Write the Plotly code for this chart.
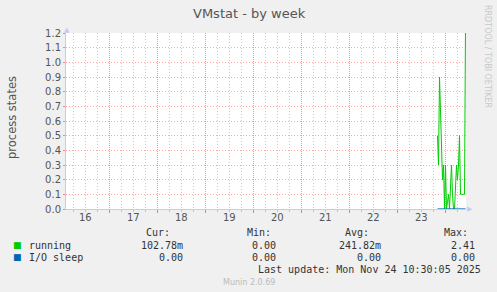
import plotly.graph_objects as go
from datetime import datetime, timedelta

# ---- data ----
DAYS = ["16", "17", "18", "19", "20", "21", "22", "23"]
DAY_DATES = ["2025-11-16", "2025-11-17", "2025-11-18", "2025-11-19",
             "2025-11-20", "2025-11-21", "2025-11-22", "2025-11-23"]
X_START = "2025-11-16 02:15"
X_END = "2025-11-24 10:15"

SAMPLE_START = "2025-11-23 20:00"
SAMPLE_STEP_MIN = 30
RUNNING = [0.5, 0.3, 0.9, 0.6, 0.3, 0.2, 0.3, 0.0, 0.3, 0.0, 0.05, 0.1, 0.0,
           0.15, 0.3, 0.1, 0.0, 0.0, 0.2, 0.3, 0.2, 0.3, 0.5, 0.1, 0.1, 0.1,
           0.1, 0.1, 1.25]
IO_SLEEP = [0.0] * len(RUNNING)

Y_TICKS = [0.0, 0.1, 0.2, 0.3, 0.4, 0.5, 0.6, 0.7, 0.8, 0.9, 1.0, 1.1, 1.2]

LEGEND_HEAD = ["Cur:", "Min:", "Avg:", "Max:"]
LEGEND_ROWS = [
    ("running", "#00CC00", ["102.78m", "0.00", "241.82m", "2.41"]),
    ("I/O sleep", "#0066B3", ["0.00", "0.00", "0.00", "0.00"]),
]
TITLE = "VMstat - by week"
Y_LABEL = "process states"
LAST_UPDATE = "Last update: Mon Nov 24 10:30:05 2025"
FOOTER = "Munin 2.0.69"
SIDE = "RRDTOOL / TOBI OETIKER"

# ---- derived ----
t0 = datetime.strptime(SAMPLE_START, "%Y-%m-%d %H:%M")
times = [t0 + timedelta(minutes=SAMPLE_STEP_MIN * i) for i in range(len(RUNNING))]
midnights = [datetime.strptime(d, "%Y-%m-%d") for d in DAY_DATES]
midnights.append(midnights[-1] + timedelta(days=1))
noons = [m + timedelta(hours=12) for m in midnights[:-1]]
quarters = [(m + timedelta(hours=h)).strftime("%Y-%m-%d %H:%M")
            for m in midnights for h in (6, 12, 18)]

W, H = 497, 292
ML, MR, MT, MB = 66, 31, 33, 83
PW, PH = W - ML - MR, H - MT - MB


def px(x):
    return (x - ML) / PW


def py(y):
    return (H - MB - y) / PH


MONO = "DejaVu Sans Mono"
SANS = "DejaVu Sans"
TXT = "#555555"
AXIS = "#C8C8F8"
MAJ = "rgba(255,0,0,0.35)"
MAJX = "rgba(240,80,80,0.6)"
MIN = "rgba(128,128,128,0.40)"
DASH = "1px,2px"

fig = go.Figure()
fig.add_trace(go.Scatter(x=times, y=RUNNING, mode="lines",
                         line=dict(color="#00CC00", width=1), name="running"))
fig.add_trace(go.Scatter(x=times, y=IO_SLEEP, mode="lines",
                         line=dict(color="#0066B3", width=1.2), name="I/O sleep"))

fig.update_layout(
    width=W, height=H,
    margin=dict(l=ML, r=MR, t=MT, b=MB),
    paper_bgcolor="#F0F0F0", plot_bgcolor="#FFFFFF",
    showlegend=False,
    xaxis=dict(
        type="date", range=[X_START, X_END],
        tickmode="linear", tick0=DAY_DATES[0], dtick=86400000,
        showticklabels=False,
        ticks="outside", ticklen=3, tickcolor="rgba(255,0,0,0.5)",
        showgrid=True, gridcolor=MAJX, griddash="1px,1px", gridwidth=1,
        minor=dict(tickmode="array", tickvals=quarters, showgrid=True,
                   gridcolor=MIN, griddash=DASH, ticks="outside",
                   ticklen=2, tickcolor=MIN),
        showline=True, linecolor=AXIS, linewidth=1,
        layer="below traces", zeroline=False,
    ),
    yaxis=dict(
        range=[0, 1.2], tickmode="array", tickvals=Y_TICKS,
        ticktext=[f"{v:.1f}" for v in Y_TICKS],
        tickfont=dict(family=SANS, size=10, color=TXT),
        ticks="outside", ticklen=2, tickcolor="rgba(255,0,0,0.45)",
        showgrid=True, gridcolor=MAJ, griddash=DASH,
        showline=True, linecolor=AXIS, linewidth=1,
        zeroline=False, layer="below traces",
    ),
)

ann = []
# day labels at noon, through the x axis scale
for d, n in zip(DAYS, noons):
    ann.append(dict(text=d, x=n, y=py(218), xref="x", yref="paper",
                    showarrow=False, xanchor="center", yanchor="middle",
                    font=dict(family=SANS, size=10, color=TXT)))
ann.append(dict(text=TITLE, x=px(249), y=py(13), xref="paper", yref="paper",
                showarrow=False, xanchor="center", yanchor="middle",
                font=dict(family=SANS, size=13, color=TXT)))
ann.append(dict(text=Y_LABEL, x=px(12), y=py(118), xref="paper", yref="paper",
                showarrow=False, xanchor="center", yanchor="middle", textangle=-90,
                font=dict(family=SANS, size=11.5, color=TXT)))
ann.append(dict(text=SIDE, x=px(488), y=py(56), xref="paper", yref="paper",
                showarrow=False, xanchor="center", yanchor="middle", textangle=90,
                font=dict(family=SANS, size=8, color="#C8C8C8")))
# axis arrows
ann.append(dict(text="▲", x=px(66.5), y=py(30), xref="paper", yref="paper",
                showarrow=False, xanchor="center", yanchor="middle",
                font=dict(family=SANS, size=7, color=AXIS)))
ann.append(dict(text="▶", x=px(470), y=py(209), xref="paper", yref="paper",
                showarrow=False, xanchor="center", yanchor="middle",
                font=dict(family=SANS, size=7, color=AXIS)))

head_right = [172, 273, 371, 470]
col_right = [185, 278, 383, 477]
for h, xr in zip(LEGEND_HEAD, head_right):
    ann.append(dict(text=h, x=px(xr), y=py(233), xref="paper", yref="paper",
                    showarrow=False, xanchor="right", yanchor="middle",
                    font=dict(family=MONO, size=10, color="#333333")))
for i, (name, color, vals) in enumerate(LEGEND_ROWS):
    yy = 245 + i * 12
    ann.append(dict(text="■", x=px(17), y=py(yy), xref="paper", yref="paper",
                    showarrow=False, xanchor="center", yanchor="middle",
                    font=dict(family=SANS, size=9, color=color)))
    ann.append(dict(text=name, x=px(27), y=py(yy), xref="paper", yref="paper",
                    showarrow=False, xanchor="left", yanchor="middle",
                    font=dict(family=MONO, size=10, color="#333333")))
    for v, xr in zip(vals, col_right):
        ann.append(dict(text=v, x=px(xr), y=py(yy), xref="paper", yref="paper",
                        showarrow=False, xanchor="right", yanchor="middle",
                        font=dict(family=MONO, size=10, color="#333333")))
ann.append(dict(text=LAST_UPDATE, x=px(483), y=py(269), xref="paper", yref="paper",
                showarrow=False, xanchor="right", yanchor="middle",
                font=dict(family=MONO, size=10, color="#333333")))
ann.append(dict(text=FOOTER, x=px(249), y=py(282), xref="paper", yref="paper",
                showarrow=False, xanchor="center", yanchor="middle",
                font=dict(family=SANS, size=8, color="#BBBBBB")))
fig.update_layout(annotations=ann)

fig.write_html("out.html")
